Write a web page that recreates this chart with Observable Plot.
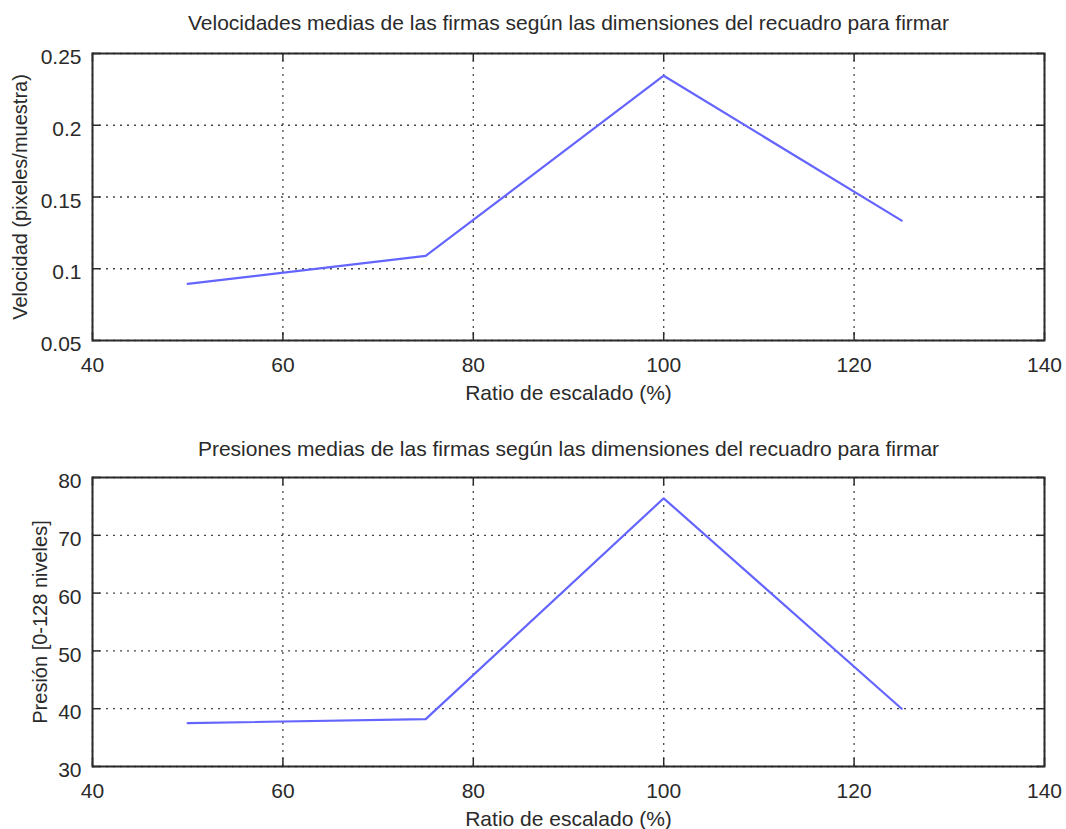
<!DOCTYPE html>
<html><head><meta charset="utf-8">
<script src="https://cdn.jsdelivr.net/npm/d3@7"></script>
<script src="https://cdn.jsdelivr.net/npm/@observablehq/plot@0.6"></script>
<style>
body{margin:0;background:#fff;overflow:hidden}
#chart{width:1066px;font-family:"Liberation Sans",Arial,Helvetica,sans-serif}
#chart svg{display:block}
</style>
</head><body><div id="chart"></div>
<script>
const ratios = [50, 75, 100, 125];
const velocidades = [0.0895, 0.109, 0.2345, 0.1335];
const presiones = [37.5, 38.2, 76.4, 40.0];
const xTicks = [40, 60, 80, 100, 120, 140];
const velTicks = [0.05, 0.1, 0.15, 0.2, 0.25];
const presTicks = [30, 40, 50, 60, 70, 80];
const velTitle = "Velocidades medias de las firmas según las dimensiones del recuadro para firmar";
const presTitle = "Presiones medias de las firmas según las dimensiones del recuadro para firmar";
const xLabel = "Ratio de escalado (%)";
const velLabel = "Velocidad (pixeles/muestra)";
const presLabel = "Presión [0-128 niveles]";

const FONT = "Liberation Sans, Arial, Helvetica, sans-serif";
const LINE = "#6464ff";
const INK = "#2a2a2a";
const W = 1066, ML = 92, MR = 22, TICK = 8;

function panel({values, yTicks, yDomain, title, ylabel, height, marginTop, marginBottom, ylabelDx, titleDy}) {
  const data = ratios.map((r, i) => ({x: r, y: values[i]}));
  const plotH = height - marginTop - marginBottom;
  const plotW = W - ML - MR;
  return Plot.plot({
    width: W,
    height,
    marginTop,
    marginBottom,
    marginLeft: ML,
    marginRight: MR,
    style: {fontFamily: FONT, background: "#fff", color: INK},
    x: {domain: [40, 140], ticks: xTicks},
    y: {domain: yDomain, ticks: yTicks},
    marks: [
      Plot.gridX(xTicks, {stroke: "#333", strokeOpacity: 0.9, strokeDasharray: "2,5", strokeWidth: 1.3}),
      Plot.gridY(yTicks, {stroke: "#333", strokeOpacity: 0.9, strokeDasharray: "2,5", strokeWidth: 1.3}),
      // inward ticks on all four sides
      Plot.tickX(xTicks, {x: d => d, insetTop: plotH - TICK, stroke: INK, strokeWidth: 1.5}),
      Plot.tickX(xTicks, {x: d => d, insetBottom: plotH - TICK, stroke: INK, strokeWidth: 1.5}),
      Plot.tickY(yTicks, {y: d => d, insetRight: plotW - TICK, stroke: INK, strokeWidth: 1.5}),
      Plot.tickY(yTicks, {y: d => d, insetLeft: plotW - TICK, stroke: INK, strokeWidth: 1.5}),
      // tick labels
      Plot.axisX(xTicks, {anchor: "bottom", tickSize: 0, tickPadding: 17, label: null, fontSize: 21, fill: INK, tickFormat: d => String(d)}),
      Plot.axisY(yTicks, {anchor: "left", tickSize: 0, tickPadding: 11, label: null, fontSize: 21, fill: INK, dy: 4, tickFormat: d => String(d)}),
      Plot.frame({stroke: INK, strokeWidth: 2}),
      Plot.line(data, {x: "x", y: "y", stroke: LINE, strokeWidth: 2.2}),
      // title and axis labels
      Plot.text([title], {text: d => d, frameAnchor: "top", dy: titleDy, textAnchor: "middle", lineAnchor: "middle", fontSize: 21, fill: INK}),
      Plot.text([xLabel], {text: d => d, frameAnchor: "bottom", dy: 53, textAnchor: "middle", lineAnchor: "middle", fontSize: 21, fill: INK}),
      Plot.text([ylabel], {text: d => d, frameAnchor: "left", dx: ylabelDx, rotate: -90, textAnchor: "middle", lineAnchor: "middle", fontSize: 20, fill: INK})
    ]
  });
}

const chart = document.getElementById("chart");
chart.append(panel({
  values: velocidades, yTicks: velTicks, yDomain: [0.05, 0.25],
  title: velTitle, ylabel: velLabel, height: 415, marginTop: 53, marginBottom: 75,
  ylabelDx: -72, titleDy: -30
}));
chart.append(panel({
  values: presiones, yTicks: presTicks, yDomain: [30, 80],
  title: presTitle, ylabel: presLabel, height: 414, marginTop: 62, marginBottom: 63,
  ylabelDx: -52, titleDy: -28
}));
</script>
</body></html>
